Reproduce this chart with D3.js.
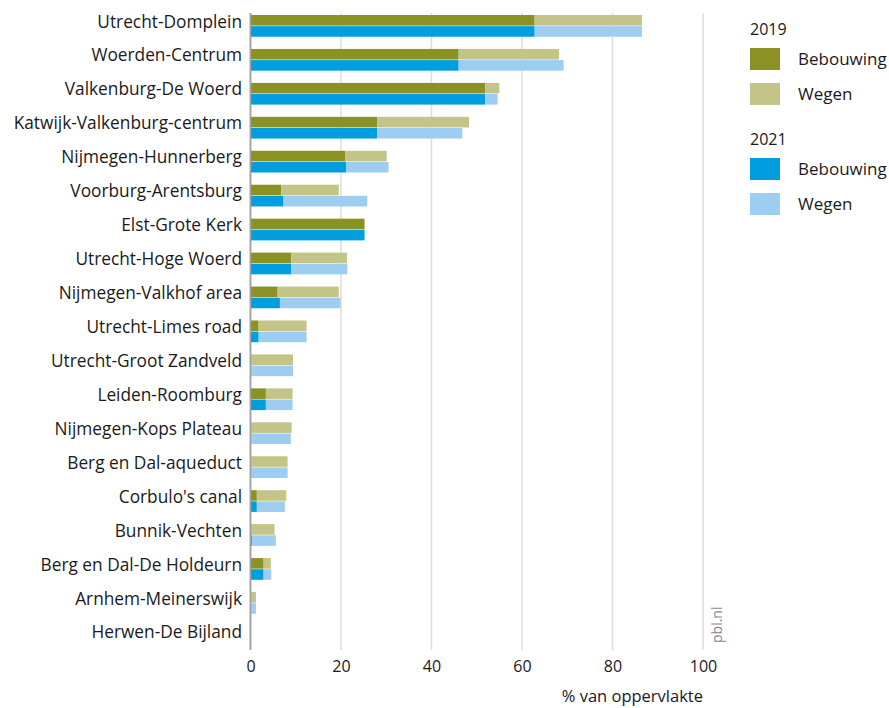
<!DOCTYPE html>
<html><head><meta charset="utf-8">
<script src="https://cdn.jsdelivr.net/npm/d3@7"></script>
<style>
body{margin:0;background:#fff;}
text{font-family:"Open Sans",sans-serif;fill:#1a1a1a;}
</style></head>
<body><svg id="c" width="889" height="708"></svg>
<script>
const categories = ["Utrecht-Domplein","Woerden-Centrum","Valkenburg-De Woerd","Katwijk-Valkenburg-centrum","Nijmegen-Hunnerberg","Voorburg-Arentsburg","Elst-Grote Kerk","Utrecht-Hoge Woerd","Nijmegen-Valkhof area","Utrecht-Limes road","Utrecht-Groot Zandveld","Leiden-Roomburg","Nijmegen-Kops Plateau","Berg en Dal-aqueduct","Corbulo's canal","Bunnik-Vechten","Berg en Dal-De Holdeurn","Arnhem-Meinerswijk","Herwen-De Bijland"];
const beb2019 = [62.8,46.0,51.9,28.0,21.0,6.8,25.2,9.0,6.0,1.8,0,3.4,0,0,1.4,0.2,2.9,0,0];
const weg2019 = [23.7,22.2,3.1,20.3,9.1,12.7,0,12.3,13.5,10.6,9.4,5.9,9.1,8.2,6.5,5.1,1.6,1.2,0];
const beb2021 = [62.8,46.0,51.9,28.0,21.1,7.3,25.2,9.0,6.5,1.8,0,3.4,0,0,1.4,0.3,2.9,0,0];
const weg2021 = [23.7,23.2,2.7,18.8,9.4,18.5,0,12.4,13.4,10.6,9.4,5.9,8.9,8.2,6.2,5.3,1.7,1.2,0];
const years = ["2019","2021"];
const seriesNames = ["Bebouwing","Wegen"];
const xTicks = [0,20,40,60,80,100];
const colors = {"2019":["#8c9123","#c4c489"],"2021":["#009ddf","#9dcdf1"]};

const svg = d3.select("#c");
const x = d3.scaleLinear().domain([0,100]).range([250.5,703]);
const y = d3.scaleBand().domain(categories).range([8.9,653.8]).paddingInner(0.36).paddingOuter(0.18);
const yy = d3.scaleBand().domain(years).range([0,y.bandwidth()]).paddingInner(0.05);

// grid
svg.append("g").selectAll("line").data(xTicks).join("line")
  .attr("x1",d=>x(d)).attr("x2",d=>x(d)).attr("y1",13).attr("y2",650)
  .attr("stroke",d=>d===0?"#a0a0a0":"#dcdcdc").attr("stroke-width",1.5);

// bars
const data = {"2019":[beb2019,weg2019],"2021":[beb2021,weg2021]};
years.forEach(yr=>{
  const [b,w]=data[yr];
  const g = svg.append("g");
  categories.forEach((c,i)=>{
    const y0 = y(c)+yy(yr), h = yy.bandwidth();
    if (b[i]>0) g.append("rect").attr("x",x(0)).attr("y",y0).attr("width",x(b[i])-x(0)).attr("height",h)
      .attr("fill",colors[yr][0]);
    if (w[i]>0) g.append("rect").attr("x",x(b[i])).attr("y",y0).attr("width",x(b[i]+w[i])-x(b[i])).attr("height",h)
      .attr("fill",colors[yr][1]);
  });
});
svg.append("line").attr("x1",x(0)).attr("x2",x(0)).attr("y1",13).attr("y2",650).attr("stroke","#a0a0a0").attr("stroke-width",1.5);

// category labels
svg.append("g").selectAll("text").data(categories).join("text")
  .attr("x",242).attr("y",d=>y(d)+yy("2019")+12.5).attr("text-anchor","end")
  .attr("font-size",17.3).text(d=>d);

// x axis labels
const xa = d3.axisBottom(x).tickValues(xTicks).tickSize(0).tickPadding(0);
const ag = svg.append("g").attr("transform","translate(0,672)").call(xa);
ag.select(".domain").remove();
ag.selectAll("text").attr("dy",0).attr("font-size",16).attr("font-family","Open Sans").attr("fill","#1a1a1a");

svg.append("text").attr("x",703).attr("y",702).attr("text-anchor","end").attr("font-size",16.5).text("% van oppervlakte");

// pbl.nl
svg.append("text").attr("transform","translate(722,643) rotate(-90)").attr("font-size",14)
  .style("fill","#8a8a8a").text("pbl.nl");

// legend
const leg = svg.append("g");
const legY = {"2019":30,"2021":140};
years.forEach(yr=>{
  leg.append("text").attr("x",750).attr("y",legY[yr]+5).attr("font-size",16).text(yr);
  seriesNames.forEach((s,j)=>{
    const top = legY[yr]+18+j*35;
    leg.append("rect").attr("x",750).attr("y",top).attr("width",30).attr("height",22).attr("fill",colors[yr][j]);
    leg.append("text").attr("x",798).attr("y",top+17).attr("font-size",17).text(s);
  });
});
</script></body></html>
